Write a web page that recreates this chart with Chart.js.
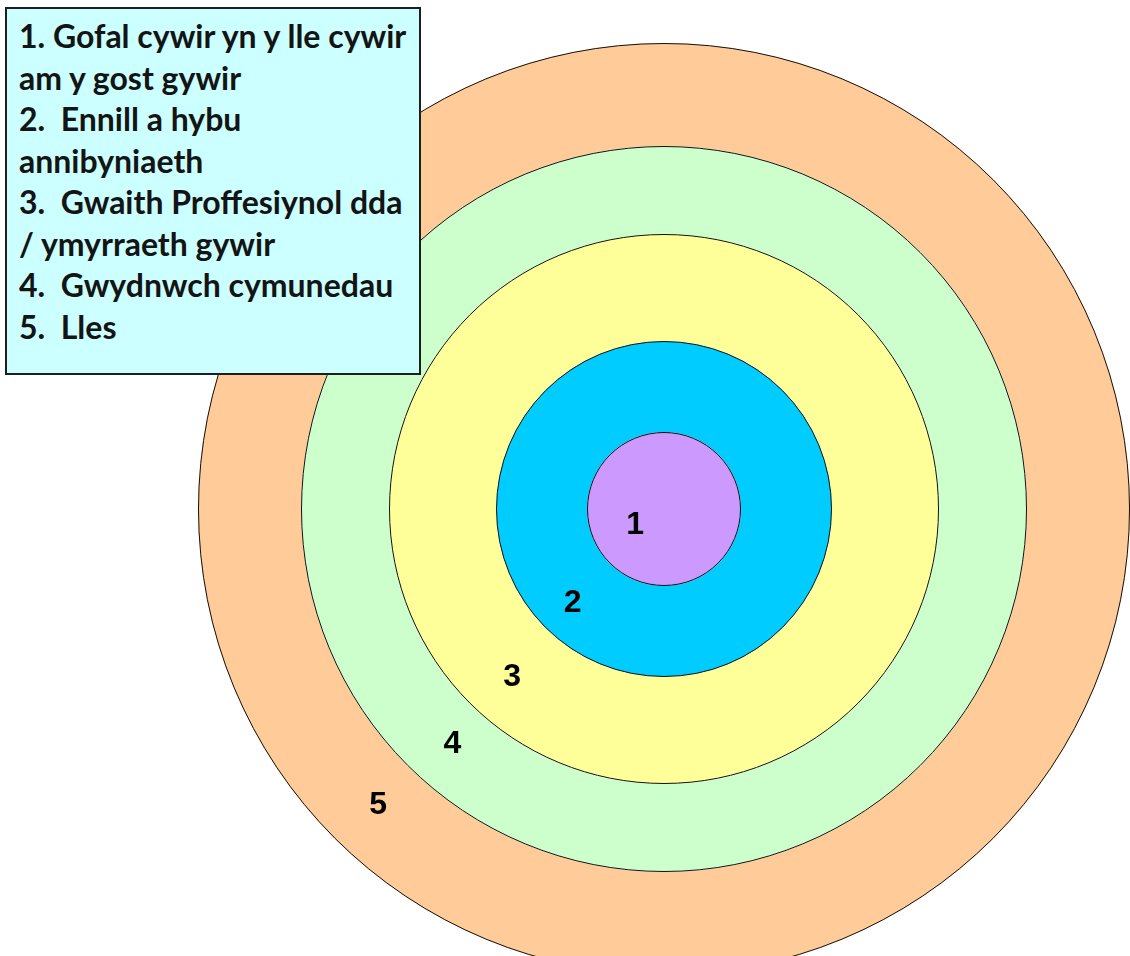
<!DOCTYPE html>
<html>
<head>
<meta charset="utf-8">
<script src="https://cdn.jsdelivr.net/npm/chart.js@4"></script>
<style>
    html, body {
        margin: 0;
        padding: 0;
        background: #ffffff;
        overflow: hidden;
        width: 1130px;
        height: 956px;
    }
    #wrap {
        position: absolute;
        left: 198px;
        top: 43px;
        width: 932px;
        height: 932px;
    }
    #caixa {
        position: absolute;
        left: 5px;
        top: 7px;
        width: 400px;
        height: 358px;
        padding: 6px 0 0 12px;
        box-sizing: content-box;
        background: #ccffff;
        border: 2px solid #1e1e1e;
        z-index: 2;
        font-family: Lato, "Open Sans", sans-serif;
        font-weight: bold;
        font-size: 32px;
        line-height: 41.5px;
        color: #141414;
    }
    #caixa div {
        white-space: nowrap;
    }
</style>
</head>
<body>
<div id="caixa"></div>
<div id="wrap"><canvas id="Alvo" width="932" height="932"></canvas></div>

<script>
// niveis, do centro para fora
let niveis = ['1', '2', '3', '4', '5'];
let descricoes = [
    'Gofal cywir yn y lle cywir',
    'Ennill a hybu',
    'Gwaith Proffesiynol dda',
    'Gwydnwch cymunedau',
    'Lles'
];
let descricoesCont = [
    'am y gost gywir',
    'annibyniaeth',
    '/ ymyrraeth gywir',
    '',
    ''
];
let valores = [1, 1, 1, 1, 1];

// aparencia (fora dos dados)
let cores = ['#cc99ff', '#00ccff', '#ffff99', '#ccffcc', '#ffcc99'];
let raioAnel = [77, 168, 275, 363, 466];   // raio externo de cada anel, px
let anguloRotulo = [151, 134, 132, 132, 134];
let fracRotulo = [0.43, 0.6, 0.55, 0.47, 0.47];

// caixa de texto
let caixa = document.getElementById('caixa');
let linhas = [];
niveis.forEach(function (n, i) {
    let sep = i === 0 ? '. ' : '.\u00a0 ';
    linhas.push(n + sep + descricoes[i]);
    if (descricoesCont[i]) linhas.push(descricoesCont[i]);
});
linhas.forEach(function (t) {
    let d = document.createElement('div');
    d.textContent = t;
    caixa.appendChild(d);
});

// datasets: o primeiro e o anel de fora
let datasets = [];
for (let i = niveis.length - 1; i >= 0; i--) {
    let interno = i > 0 ? raioAnel[i - 1] : 0;
    datasets.push({
        label: niveis[i],
        data: [valores[i]],
        backgroundColor: cores[i],
        borderWidth: 0,
        weight: raioAnel[i] - interno
    });
}

// contorno de cada anel (sem a emenda radial do arco de 360)
const contornos = {
    id: 'contornos',
    afterDatasetsDraw(chart) {
        const ctx = chart.ctx;
        ctx.save();
        ctx.strokeStyle = '#111111';
        ctx.lineWidth = 1;
        chart.data.datasets.forEach(function (ds, k) {
            const p = chart.getDatasetMeta(k).data[0].getProps(['x', 'y', 'outerRadius'], true);
            ctx.beginPath();
            ctx.arc(p.x, p.y, p.outerRadius - 0.5, 0, Math.PI * 2);
            ctx.stroke();
        });
        ctx.restore();
    }
};

const rotulosAneis = {
    id: 'rotulosAneis',
    afterDatasetsDraw(chart) {
        const ctx = chart.ctx;
        ctx.save();
        ctx.font = 'bold 32px "Liberation Sans", Arial, sans-serif';
        ctx.fillStyle = '#000000';
        ctx.textAlign = 'center';
        ctx.textBaseline = 'middle';
        chart.data.datasets.forEach(function (ds, k) {
            const arco = chart.getDatasetMeta(k).data[0];
            const p = arco.getProps(['x', 'y', 'innerRadius', 'outerRadius'], true);
            const i = niveis.indexOf(ds.label);
            const r = p.innerRadius + (p.outerRadius - p.innerRadius) * fracRotulo[i];
            const a = anguloRotulo[i] * Math.PI / 180;
            ctx.fillText(ds.label, p.x + r * Math.cos(a), p.y + r * Math.sin(a));
        });
        ctx.restore();
    }
};

var ctx = document.getElementById('Alvo').getContext('2d');
var grafico = new Chart(ctx, {
    type: 'pie',
    data: {
        labels: ['nivel'],
        datasets: datasets
    },
    options: {
        responsive: false,
        animation: false,
        events: [],
        layout: { padding: 0 },
        plugins: {
            legend: { display: false },
            tooltip: { enabled: false }
        }
    },
    plugins: [contornos, rotulosAneis]
});
</script>
</body>
</html>
